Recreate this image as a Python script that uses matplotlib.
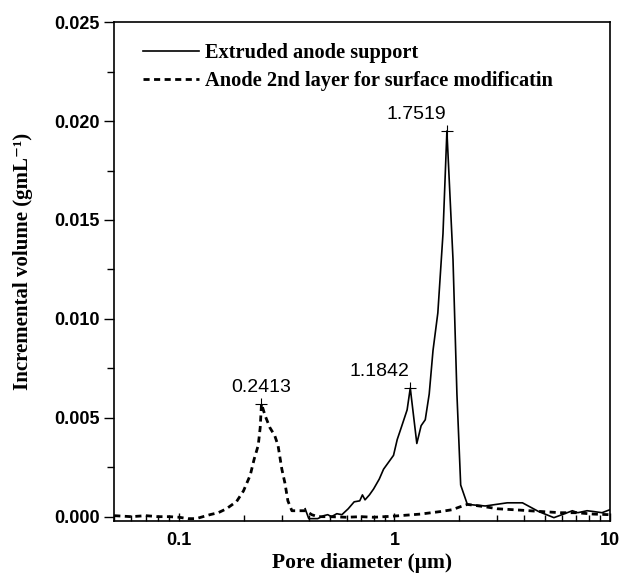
import matplotlib
matplotlib.use("Agg")
import matplotlib.pyplot as plt
from matplotlib.ticker import MultipleLocator, FixedLocator, NullFormatter

# Extruded anode support (solid)
solid_x = [0.385, 0.40, 0.44, 0.47, 0.49, 0.51, 0.54, 0.57, 0.61, 0.65, 0.69, 0.71, 0.73,
           0.765, 0.80, 0.85, 0.89, 0.946, 0.99, 1.03, 1.075, 1.145, 1.1842, 1.27, 1.33,
           1.39, 1.45, 1.51, 1.59, 1.68, 1.7519, 1.87, 1.95, 2.03, 2.18, 2.64, 3.34, 3.93,
           4.67, 5.5, 6.1, 6.7, 7.1, 7.84, 8.4, 9.2, 10.0]
solid_y = [0.0004, -0.0001, -0.0001, 0.00005, 0.0001, 0.0, 0.00015, 0.0001, 0.0004, 0.00075,
           0.0008, 0.0011, 0.00085, 0.0011, 0.0014, 0.0019, 0.0024, 0.0028, 0.0031, 0.0039,
           0.0045, 0.0054, 0.0065, 0.0037, 0.0046, 0.0049, 0.0062, 0.0084, 0.0103, 0.0143,
           0.0195, 0.0130, 0.0062, 0.0016, 0.00062, 0.00054, 0.0007, 0.0007, 0.00026,
           -0.00005, 0.00013, 0.0003, 0.0002, 0.0003, 0.00026, 0.0002, 0.00035]

# Anode 2nd layer for surface modification (dashed)
dash_x = [0.05, 0.06, 0.07, 0.08, 0.09, 0.10, 0.11, 0.12, 0.139, 0.152, 0.166, 0.185, 0.199,
          0.214, 0.223, 0.233, 0.238, 0.2413, 0.251, 0.264, 0.278, 0.288, 0.30, 0.31, 0.32,
          0.334, 0.372, 0.388, 0.413, 0.44, 0.5, 0.6, 0.7, 0.8, 0.9, 1.03, 1.32, 1.64, 1.85,
          2.02, 2.18, 2.64, 3.0, 3.84, 4.8, 5.9, 7.0, 8.4, 10.0]
dash_y = [0.00005, 0.0, 0.00005, 0.0, 0.0, -0.00003, -0.0001, -0.0001, 0.0001, 0.0002, 0.0004,
          0.00077, 0.0013, 0.0021, 0.0029, 0.0036, 0.0045, 0.0057, 0.0051, 0.0045, 0.0041,
          0.0036, 0.0024, 0.0017, 0.0008, 0.0003, 0.0003, 0.0003, 0.0001, 0.0, 0.0, -0.00003,
          0.0, -0.00003, 0.0, 0.00004, 0.00013, 0.00026, 0.00035, 0.0005, 0.00062, 0.0005,
          0.0004, 0.00033, 0.00026, 0.0002, 0.0002, 0.00013, 0.0001]

peak_x = [0.2413, 1.1842, 1.7519]
peak_y = [0.0057, 0.0065, 0.0195]
peak_labels = ["0.2413", "1.1842", "1.7519"]
peak_dx = [0, -22, -22]

legend_labels = ["Extruded anode support", "Anode 2nd layer for surface modificatin"]

fig = plt.figure(figsize=(6.21, 5.83), dpi=100)
ax = fig.add_axes([0.184, 0.107, 0.798, 0.855])

ax.plot(solid_x, solid_y, color="black", lw=1.2, label=legend_labels[0])
ax.plot(dash_x, dash_y, color="black", lw=2.0, ls=(0, (2.2, 1.6)), label=legend_labels[1])
ax.plot(peak_x, peak_y, ls="none", marker="+", color="black", ms=8, mew=0.8)
for px, py, lab, dx in zip(peak_x, peak_y, peak_labels, peak_dx):
    ax.annotate(lab, (px, py), xytext=(dx, 6), textcoords="offset points",
                ha="center", va="bottom", fontsize=14, family="Liberation Sans")

ax.set_xscale("log")
ax.set_xlim(0.05, 10)
ax.set_ylim(-0.0002, 0.025)
ax.xaxis.set_major_locator(FixedLocator([0.1, 1, 10]))
ax.set_xticklabels(["0.1", "1", "10"])
ax.xaxis.set_minor_locator(FixedLocator([m * d for d in (0.01, 0.1, 1) for m in range(2, 10)]))
ax.xaxis.set_minor_formatter(NullFormatter())
ax.yaxis.set_major_locator(MultipleLocator(0.005))
ax.yaxis.set_minor_locator(MultipleLocator(0.0025))
ax.set_yticklabels([f"{v:.3f}" for v in ax.get_yticks()])
ax.tick_params(axis="x", which="major", direction="in", length=6, width=1, pad=8)
ax.tick_params(axis="x", which="minor", direction="in", length=4, width=1)
ax.tick_params(axis="y", which="major", direction="out", length=7, width=1)
ax.tick_params(axis="y", which="minor", direction="out", length=5, width=1)
for lab in ax.get_xticklabels() + ax.get_yticklabels():
    lab.set_fontfamily("Liberation Sans")
    lab.set_fontweight("bold")
    lab.set_fontsize(13)
for s in ax.spines.values():
    s.set_linewidth(1.2)

ax.set_xlabel("Pore diameter (\u03bcm)", family="Liberation Serif", fontweight="bold",
              fontsize=15.5)
ax.xaxis.set_label_coords(0.5, -0.064)
ax.set_ylabel("Incremental volume (gmL\u207b\u00b9)", family=["Liberation Serif", "DejaVu Serif"],
              fontweight="bold", fontsize=15)
ax.yaxis.set_label_coords(-0.164, 0.52)

leg = ax.legend(loc="upper left", frameon=False, bbox_to_anchor=(0.03, 0.987),
                prop={"family": "Liberation Serif", "weight": "bold", "size": 14.7},
                handlelength=2.7, handletextpad=0.3, labelspacing=0.4, borderpad=0.2)

fig.savefig("out.png", dpi=100)
